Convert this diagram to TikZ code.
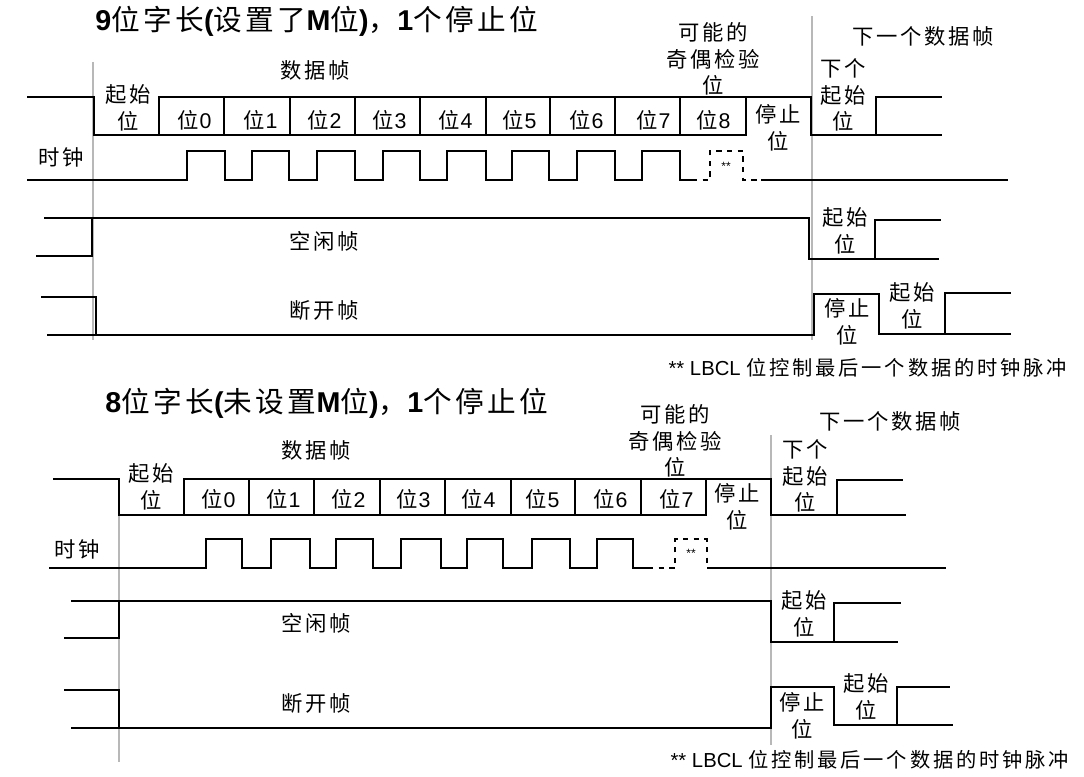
\documentclass[tikz,border=0pt]{standalone}
\usepackage{fontspec}
\setmainfont[LetterSpace=12]{Noto Sans CJK SC}
\newfontfamily\latf{Liberation Sans}
\newfontfamily\latb{Liberation Sans Bold}
\newfontfamily\ttlf[LetterSpace=12]{Noto Sans CJK SC}
\newfontfamily\notef[LetterSpace=14]{Noto Sans CJK SC}
\newcommand{\dg}[1]{\hspace{1pt}{\latf #1}}
\newcommand{\bb}[1]{{\latb #1}}
\begin{document}
\begin{tikzpicture}[x=0.75pt,y=-0.75pt,
  sig/.style={draw=black,line width=1.15pt,line join=miter},
  dsig/.style={draw=black,line width=1.0pt,dash pattern=on 4pt off 4pt},
  gridl/.style={draw=black!28,line width=1.5pt},
  lab/.style={inner sep=0pt,align=center,xshift=1pt,font=\fontsize{16}{20}\selectfont},
  ttl/.style={inner sep=0pt,anchor=west,font=\fontsize{21.5}{25}\selectfont\ttlf},
  note/.style={inner sep=0pt,anchor=west,font=\fontsize{15.2}{18}\selectfont\notef},
  star/.style={inner sep=0pt,font=\fontsize{9}{9}\selectfont\latf}]
\useasboundingbox (0,0) rectangle (1084,777);
\fill[white] (0,0) rectangle (1084,777);
% ---------- grey frame lines
\draw[gridl] (93,62) -- (93,340);
\draw[gridl] (812,16) -- (812,340);
\draw[gridl] (119,478) -- (119,762);
\draw[gridl] (771,435) -- (771,745);
% ---------- top frame
\node[ttl] (t1) at (95,21) {\bb{9}位字长\bb{(}设置了\bb{M}位\bb{)}，\bb{1}个停止位};
\draw[sig] (27,97) -- (94,97) -- (94,135) -- (746,135) -- (746,97) -- (159,97) -- (159,135);
\draw[sig] (746,97) -- (811,97) -- (811,135) -- (942,135);
\draw[sig] (876,135) -- (876,97) -- (942,97);
\foreach \x in {224,290,355,420,486,550,615,680} \draw[sig] (\x,97) -- (\x,135);
\draw[sig] (27,180) -| (187,151) -| (225,180) -| (252,151) -| (289,180) -| (317,151) -| (355,180) -| (383,151) -| (420,180) -| (447,151) -| (486,180) -| (512,151) -| (549,180) -| (577,151) -| (615,180) -| (642,151) -| (680,180) -- (692,180);
\draw[dsig] (692,180) -- (710,180) -- (710,151) -- (743,151) -- (743,180) -- (760,180);
\draw[sig] (761,180) -- (1008,180);
\node[star] (s1) at (726,166) {**};
\draw[sig] (44,218) -- (809,218) -- (809,259) -- (939,259);
\draw[sig] (36,256) -- (92,256) -- (92,218);
\draw[sig] (875,259) -- (875,220) -- (941,220);
\draw[sig] (41,297) -- (96,297) -- (96,335);
\draw[sig] (47,335) -- (814,335) -- (814,294) -- (879,294) -- (879,334) -- (1011,334);
\draw[sig] (945,334) -- (945,293) -- (1011,293);
\node[lab] (a1) at (314,70) {数据帧};
\node[lab] (a2) at (127,108) {起始\\位};
\node[lab] (b0) at (193,120) {位\dg{0}};
\node[lab] (b1) at (259,120) {位\dg{1}};
\node[lab] (b2) at (323,120) {位\dg{2}};
\node[lab] (b3) at (388,120) {位\dg{3}};
\node[lab] (b4) at (454,120) {位\dg{4}};
\node[lab] (b5) at (518,120) {位\dg{5}};
\node[lab] (b6) at (585,120) {位\dg{6}};
\node[lab] (b7) at (652,120) {位\dg{7}};
\node[lab] (b8) at (712,120) {位\dg{8}};
\node[lab] (a3) at (60,157) {时钟};
\node[lab] (a4) at (712,59) {可能的\\奇偶检验\\位};
\node[lab] (a5) at (777,128) {停止\\位};
\node[lab] (a6) at (922,36) {下一个数据帧};
\node[lab] (a7) at (842,95) {下个\\起始\\位};
\node[lab] (a8) at (323,241) {空闲帧};
\node[lab] (a9) at (323,310) {断开帧};
\node[lab] (a10) at (844,231) {起始\\位};
\node[lab] (a11) at (846,322) {停止\\位};
\node[lab] (a12) at (911,306) {起始\\位};
\node[note] (n1) at (667,368) {\dg{** LBCL }位控制最后一个数据的时钟脉冲};
% ---------- bottom frame
\node[ttl] (t2) at (105,403) {\bb{8}位字长\bb{(}未设置\bb{M}位\bb{)}，\bb{1}个停止位};
\draw[sig] (53,479) -- (119,479) -- (119,515) -- (706,515) -- (706,479) -- (184,479) -- (184,515);
\draw[sig] (706,479) -- (771,479) -- (771,515) -- (906,515);
\draw[sig] (837,515) -- (837,480) -- (903,480);
\foreach \x in {249,314,380,445,511,575,641} \draw[sig] (\x,479) -- (\x,515);
\draw[sig] (49,568) -| (206,539) -| (242,568) -| (271,539) -| (310,568) -| (336,539) -| (373,568) -| (401,539) -| (441,568) -| (467,539) -| (503,568) -| (532,539) -| (570,568) -| (597,539) -| (633,568) -- (648,568);
\draw[dsig] (648,568) -- (675,568) -- (675,539) -- (707,539) -- (707,568) -- (713,568);
\draw[sig] (713,568) -- (946,568);
\node[star] (s2) at (691,553) {**};
\draw[sig] (71,601) -- (771,601) -- (771,642) -- (898,642);
\draw[sig] (64,638) -- (119,638) -- (119,601);
\draw[sig] (834,642) -- (834,603) -- (901,603);
\draw[sig] (64,690) -- (119,690) -- (119,728);
\draw[sig] (71,728) -- (771,728) -- (771,687) -- (834,687) -- (834,725) -- (953,725);
\draw[sig] (897,725) -- (897,687) -- (950,687);
\node[lab] (c1) at (315,450) {数据帧};
\node[lab] (c2) at (150,487) {起始\\位};
\node[lab] (d0) at (217,499) {位\dg{0}};
\node[lab] (d1) at (282,499) {位\dg{1}};
\node[lab] (d2) at (347,499) {位\dg{2}};
\node[lab] (d3) at (412,499) {位\dg{3}};
\node[lab] (d4) at (477,499) {位\dg{4}};
\node[lab] (d5) at (541,499) {位\dg{5}};
\node[lab] (d6) at (609,499) {位\dg{6}};
\node[lab] (d7) at (675,499) {位\dg{7}};
\node[lab] (c3) at (76,549) {时钟};
\node[lab] (c4) at (674,441) {可能的\\奇偶检验\\位};
\node[lab] (c5) at (736,507) {停止\\位};
\node[lab] (c6) at (889,421) {下一个数据帧};
\node[lab] (c7) at (804,476) {下个\\起始\\位};
\node[lab] (c8) at (315,623) {空闲帧};
\node[lab] (c9) at (315,703) {断开帧};
\node[lab] (c10) at (803,614) {起始\\位};
\node[lab] (c11) at (801,716) {停止\\位};
\node[lab] (c12) at (865,697) {起始\\位};
\node[note] (n2) at (669,760) {\dg{** LBCL }位控制最后一个数据的时钟脉冲};
\end{tikzpicture}
\end{document}
